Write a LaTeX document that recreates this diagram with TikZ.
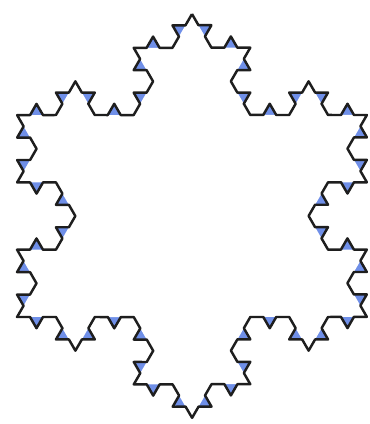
\documentclass[tikz,border=0pt]{standalone}
\usepackage{tikz}
\usetikzlibrary{decorations.fractals}
\definecolor{flakeblue}{HTML}{6F8FE8}
\definecolor{flakeline}{HTML}{1E1E1E}
\tikzset{
  bumps/.style={fill=flakeblue,decoration=Koch snowflake},
  inner/.style={fill=white,decoration=Koch snowflake},
  outline/.style={draw=flakeline,line width=1.4pt,line join=round,
    decoration=Koch snowflake}
}

\begin{document}
\begin{tikzpicture}
  \useasboundingbox (0,0) rectangle (7.4,8.48);
  \begin{scope}[shift={(3.84,4.16)}]
    % smallest bumps in blue, level 2 flake covers the rest
    \fill[bumps] decorate{decorate{decorate{
      (90:4.04) -- (-30:4.04) -- (-150:4.04) -- (90:4.04)}}};
    \fill[inner] decorate{decorate{
      (90:4.04) -- (-30:4.04) -- (-150:4.04) -- (90:4.04)}};
    % level 3 outline
    \draw[outline] decorate{decorate{decorate{
      (90:4.04) -- (-30:4.04) -- (-150:4.04) -- (90:4.04)}}};
  \end{scope}
\end{tikzpicture}
\end{document}
